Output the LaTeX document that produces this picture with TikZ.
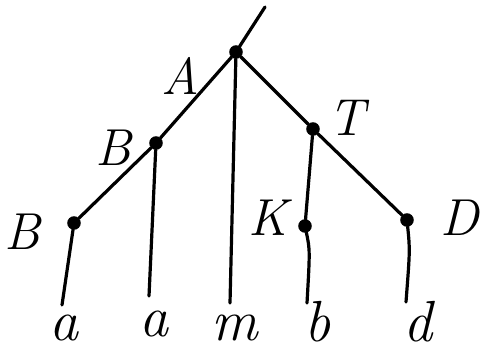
\documentclass[tikz,border=0pt]{standalone}
\begin{document}
\begin{tikzpicture}[x=1pt,y=-1pt,
  dotnode/.style={circle,fill=black,draw=black,line width=1.5pt,inner sep=0pt,minimum size=12pt},
  edge/.style={line width=3.2pt,line cap=round},
  lab/.style={font=\fontsize{52}{52}\selectfont\itshape,inner sep=0pt},
  leaf/.style={font=\fontsize{58}{58}\selectfont\itshape,inner sep=0pt}]
\useasboundingbox (0,0) rectangle (486,359);
\coordinate (top) at (265,7);
\node[dotnode] (A) at (236,52) {};
\node[dotnode] (B1) at (156,143) {};
\node[dotnode] (B2) at (74,223) {};
\node[dotnode] (T) at (313,129) {};
\node[dotnode] (K) at (305,226) {};
\node[dotnode] (D) at (407,220) {};
\coordinate (e1) at (62,305);
\coordinate (e2) at (149,296);
\coordinate (e3) at (230,303);
\coordinate (e4) at (307,303);
\coordinate (e5) at (406,302);
\draw[edge] (top) -- (A);
\draw[edge] (A) -- (B1);
\draw[edge] (B1) -- (B2);
\draw[edge] (A) -- (e3);
\draw[edge] (A) -- (T);
\draw[edge] (T) -- (K);
\draw[edge] (T) -- (D);
\draw[edge] (B2) -- (e1);
\draw[edge] (B1) -- (e2);
\draw[edge] (K) .. controls (310,250) .. (e4);
\draw[edge] (D) .. controls (410,250) .. (e5);
\node[lab] (lA) at (180,76) {A};
\node[lab] (lB1) at (113,148) {B};
\node[lab] (lB2) at (22,232) {B};
\node[lab] (lT) at (347,118) {T};
\node[lab] (lK) at (268,218) {K};
\node[lab] (lD) at (460,218) {D};
\node[leaf] (la1) at (64,328) {a};
\node[leaf] (la2) at (154,324) {a};
\node[leaf] (lm) at (235,328) {m};
\node[leaf] (lb) at (318,322) {b};
\node[leaf] (ld) at (418,322) {d};
\end{tikzpicture}
\end{document}
